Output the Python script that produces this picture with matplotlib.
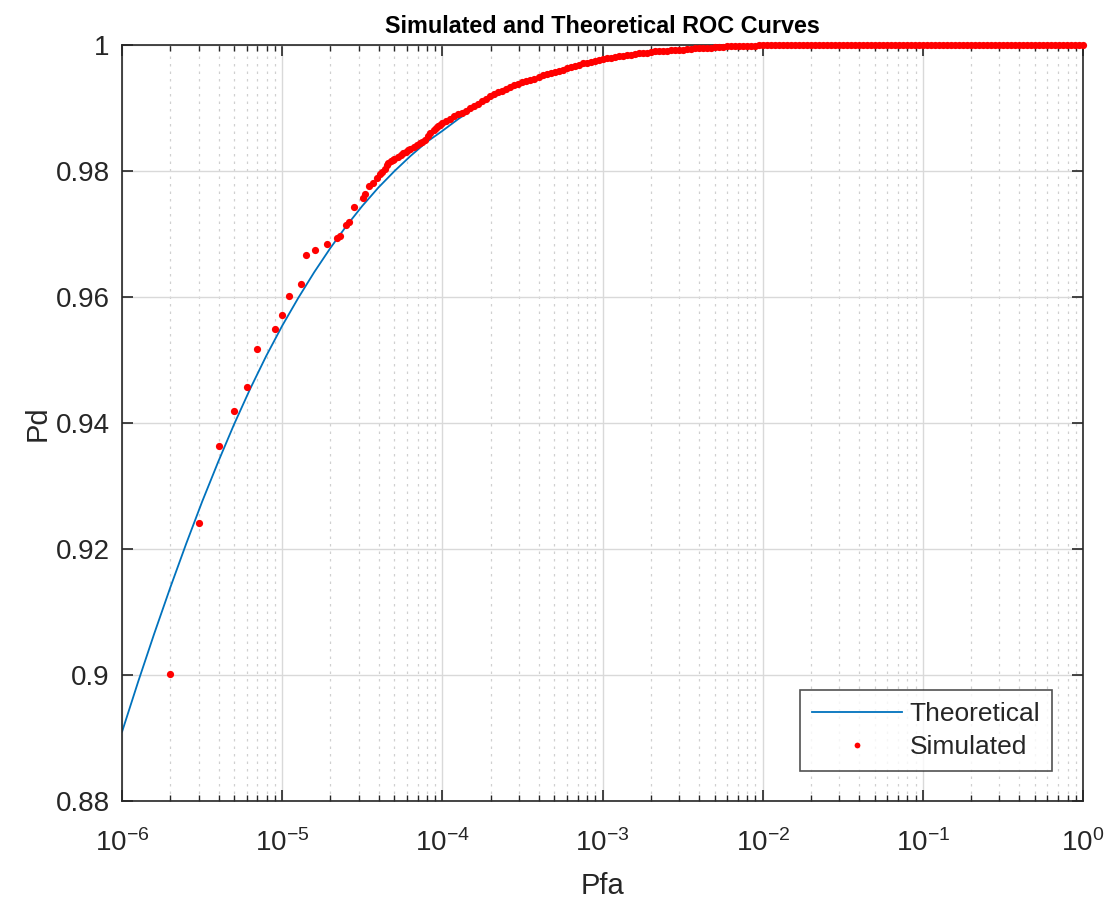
import numpy as np
import matplotlib
matplotlib.use("Agg")
import matplotlib.pyplot as plt
from matplotlib.ticker import FixedLocator, FuncFormatter, NullFormatter

plt.rcParams['font.family'] = ['Liberation Sans', 'DejaVu Sans']
plt.rcParams['mathtext.default'] = 'regular'

# theoretical ROC (log10 Pfa -> Pd)
theo_logpfa = [-6.0, -5.9, -5.8, -5.7, -5.6, -5.5, -5.4, -5.3, -5.2, -5.1,
               -5.0, -4.9, -4.8, -4.7, -4.6, -4.5, -4.4, -4.3, -4.2, -4.1,
               -4.0, -3.9, -3.8, -3.7, -3.6, -3.5, -3.4, -3.3, -3.2, -3.0,
               -2.7, -2.4, -2.0, -1.5, -1.0, 0.0]
theo_pd = [0.8910, 0.8989, 0.9065, 0.9138, 0.9208, 0.9275, 0.9338, 0.9398, 0.9454, 0.9506,
           0.9554, 0.9598, 0.9639, 0.9677, 0.9712, 0.9744, 0.9773, 0.9799, 0.9823, 0.9845,
           0.9863, 0.9882, 0.9899, 0.9914, 0.9927, 0.9938, 0.9948, 0.9956, 0.9963, 0.9974,
           0.9985, 0.9992, 0.9998, 1.0, 1.0, 1.0]

# simulated ROC, sparse part (single dots)
sim_pfa_low = [2e-6, 3e-6, 4e-6, 5e-6, 6e-6, 7e-6, 9e-6, 1e-5, 1.1e-5, 1.3e-5,
               1.4e-5, 1.6e-5, 1.9e-5, 2.2e-5, 2.3e-5, 2.5e-5, 2.6e-5, 2.8e-5,
               3.2e-5, 3.3e-5, 3.5e-5, 3.7e-5, 3.9e-5, 4.1e-5, 4.2e-5, 4.4e-5,
               4.5e-5, 4.6e-5, 4.8e-5, 4.9e-5, 5.0e-5, 5.25e-5, 5.5e-5, 5.7e-5,
               5.9e-5, 6.1e-5, 6.3e-5, 6.6e-5, 6.9e-5, 7.2e-5, 7.5e-5, 7.8e-5,
               8.1e-5, 8.4e-5, 8.8e-5, 9.1e-5, 9.4e-5, 9.7e-5]
sim_pd_low = [0.9002, 0.9241, 0.9363, 0.9418, 0.9457, 0.9517, 0.9549, 0.9571, 0.9601, 0.9620,
              0.9666, 0.9674, 0.9683, 0.9693, 0.9697, 0.9714, 0.9718, 0.9742,
              0.9757, 0.9763, 0.9775, 0.9781, 0.9789, 0.9794, 0.9798, 0.9803,
              0.9809, 0.9812, 0.9815, 0.9817, 0.9818, 0.9822, 0.9825, 0.9828,
              0.9830, 0.9832, 0.9834, 0.9837, 0.9840, 0.9843, 0.9846, 0.9849,
              0.9855, 0.9860, 0.9865, 0.9868, 0.9870, 0.9873]

# simulated ROC, dense band (log10 Pfa -> Pd)
sim_logpfa_band = [
    -4.000, -3.975, -3.950, -3.925, -3.900, -3.875, -3.850, -3.825, -3.800, -3.775,
    -3.750, -3.725, -3.700, -3.675, -3.650, -3.625, -3.600, -3.575, -3.550, -3.525,
    -3.500, -3.475, -3.450, -3.425, -3.400, -3.375, -3.350, -3.325, -3.300, -3.275,
    -3.250, -3.225, -3.200, -3.175, -3.150, -3.125, -3.100, -3.075, -3.050, -3.025,
    -3.000, -2.975, -2.950, -2.925, -2.900, -2.875, -2.850, -2.825, -2.800, -2.775,
    -2.750, -2.725, -2.700, -2.675, -2.650, -2.625, -2.600, -2.575, -2.550, -2.525,
    -2.500, -2.475, -2.450, -2.425, -2.400, -2.375, -2.350, -2.325, -2.300, -2.275,
    -2.250, -2.225, -2.200, -2.175, -2.150, -2.125, -2.100, -2.075, -2.050, -2.025,
    -2.000, -1.975, -1.950, -1.925, -1.900, -1.875, -1.850, -1.825, -1.800, -1.775,
    -1.750, -1.725, -1.700, -1.675, -1.650, -1.625, -1.600, -1.575, -1.550, -1.525,
    -1.500, -1.475, -1.450, -1.425, -1.400, -1.375, -1.350, -1.325, -1.300, -1.275,
    -1.250, -1.225, -1.200, -1.175, -1.150, -1.125, -1.100, -1.075, -1.050, -1.025,
    -1.000, -0.975, -0.950, -0.925, -0.900, -0.875, -0.850, -0.825, -0.800, -0.775,
    -0.750, -0.725, -0.700, -0.675, -0.650, -0.625, -0.600, -0.575, -0.550, -0.525,
    -0.500, -0.475, -0.450, -0.425, -0.400, -0.375, -0.350, -0.325, -0.300, -0.275,
    -0.250, -0.225, -0.200, -0.175, -0.150, -0.125, -0.100, -0.075, -0.050, -0.025,
    0.000]
sim_pd_band = [
    0.9876, 0.9879, 0.9882, 0.9886, 0.9889, 0.9892, 0.9895, 0.9899, 0.9902, 0.9906,
    0.9910, 0.9914, 0.9918, 0.9921, 0.9924, 0.9927, 0.9930, 0.9933, 0.9935, 0.9938,
    0.9940, 0.9942, 0.9944, 0.9946, 0.9948, 0.9951, 0.9953, 0.9955, 0.9956, 0.9958,
    0.9960, 0.9962, 0.9964, 0.9966, 0.9968, 0.9970, 0.9971, 0.9973, 0.9974, 0.9976,
    0.9977, 0.9978, 0.9979, 0.9980, 0.9981, 0.9982, 0.9983, 0.9984, 0.9985, 0.9986,
    0.9986, 0.9987, 0.9988, 0.9989, 0.9989, 0.9990, 0.9990, 0.9991, 0.9991, 0.9992,
    0.9992, 0.9993, 0.9993, 0.9994, 0.9994, 0.9995, 0.9995, 0.9995, 0.9996, 0.9996,
    0.9996, 0.9997, 0.9997, 0.9997, 0.9997, 0.9998, 0.9998, 0.9998, 0.9998, 0.9999,
    0.9999, 1.0, 1.0, 1.0, 1.0, 1.0, 1.0, 1.0, 1.0, 1.0,
    1.0, 1.0, 1.0, 1.0, 1.0, 1.0, 1.0, 1.0, 1.0, 1.0,
    1.0, 1.0, 1.0, 1.0, 1.0, 1.0, 1.0, 1.0, 1.0, 1.0,
    1.0, 1.0, 1.0, 1.0, 1.0, 1.0, 1.0, 1.0, 1.0, 1.0,
    1.0, 1.0, 1.0, 1.0, 1.0, 1.0, 1.0, 1.0, 1.0, 1.0,
    1.0, 1.0, 1.0, 1.0, 1.0, 1.0, 1.0, 1.0, 1.0, 1.0,
    1.0, 1.0, 1.0, 1.0, 1.0, 1.0, 1.0, 1.0, 1.0, 1.0,
    1.0, 1.0, 1.0, 1.0, 1.0, 1.0, 1.0, 1.0, 1.0, 1.0,
    1.0]

xticks = [1e-6, 1e-5, 1e-4, 1e-3, 1e-2, 1e-1, 1.0]
yticks = [0.88, 0.9, 0.92, 0.94, 0.96, 0.98, 1.0]

theo_pfa = 10.0 ** np.array(theo_logpfa)
sim_pfa = np.concatenate([sim_pfa_low, 10.0 ** np.array(sim_logpfa_band)])
sim_pd = np.concatenate([sim_pd_low, sim_pd_band])

fig = plt.figure(figsize=(11.1, 9.01), dpi=100)
ax = fig.add_axes([0.110, 0.111, 0.8657, 0.8396])

ax.semilogx(theo_pfa, theo_pd, color='#0072BD', lw=1.3, label='Theoretical')
ax.semilogx(sim_pfa, sim_pd, 'o', color='#FF0000', ms=5.2, mec='none',
            label='Simulated', clip_on=False, zorder=3)

ax.set_xlim(1e-6, 1)
ax.set_ylim(0.88, 1.0)

# minor ticks at 2..9 of every decade
minor_x = [m * 10.0 ** e for e in range(-6, 0) for m in range(2, 10)]
ax.xaxis.set_major_locator(FixedLocator(xticks))
ax.xaxis.set_minor_locator(FixedLocator(minor_x))
ax.xaxis.set_minor_formatter(NullFormatter())
ax.xaxis.set_major_formatter(FuncFormatter(lambda v, p: r'$10^{%d}$' % round(np.log10(v))))
ax.yaxis.set_major_locator(FixedLocator(yticks))
ax.yaxis.set_major_formatter(FuncFormatter(lambda v, p: '%g' % v))

ax.grid(True, which='major', color='#d9d9d9', lw=1.0, ls='-')
ax.grid(True, which='minor', axis='x', color='#d0d0d0', lw=0.9, ls=(0, (2, 4)))
ax.set_axisbelow(True)

ax.tick_params(which='both', direction='in', top=True, right=True,
               labelsize=20, colors='#262626')
ax.tick_params(which='major', length=8, width=1.2)
ax.tick_params(which='minor', length=4, width=1.0)
ax.tick_params(axis='x', pad=20)
ax.tick_params(axis='y', pad=9)
for s in ax.spines.values():
    s.set_color('#262626')
    s.set_linewidth(1.2)

ax.set_xlabel('Pfa', fontsize=21, color='#262626', labelpad=11)
ax.set_ylabel('Pd', fontsize=21, color='#262626', labelpad=3)
ax.set_title('Simulated and Theoretical ROC Curves', fontsize=16.8, fontweight='bold',
             color='black', pad=8)

leg = ax.legend(loc='lower right', fontsize=19, frameon=True, fancybox=False,
                edgecolor='#262626', borderpad=0.45, handlelength=3.4,
                handletextpad=0.3, labelspacing=0.35, markerscale=0.8,
                borderaxespad=0, bbox_to_anchor=(0.9677, 0.0397))
leg.get_frame().set_linewidth(1.2)
for t in leg.get_texts():
    t.set_color('#262626')

fig.savefig('out.png', dpi=100)
